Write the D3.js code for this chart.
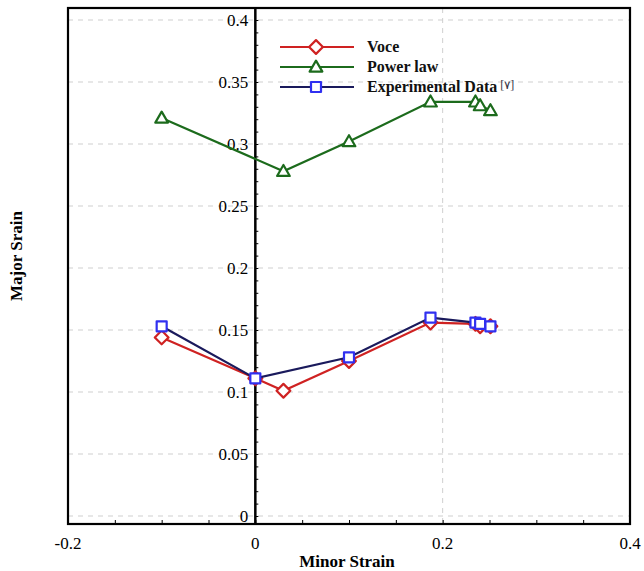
<!DOCTYPE html>
<html><head><meta charset="utf-8">
<script src="https://cdn.jsdelivr.net/npm/d3@7"></script>
<style>body{margin:0;background:#fff;} svg{display:block;}</style>
</head><body>
<svg id="c" width="644" height="571"></svg>
<script>
const minorStrain = [-0.1, 0, 0.03, 0.1, 0.187, 0.235, 0.24, 0.251];
const voce = [0.144, 0.111, 0.101, 0.125, 0.156, 0.155, 0.153, 0.153];
const powerX = [-0.1, 0.03, 0.1, 0.187, 0.235, 0.24, 0.251];
const powerLaw = [0.321, 0.278, 0.302, 0.334, 0.334, 0.331, 0.327];
const expX = [-0.1, 0, 0.1, 0.187, 0.235, 0.24, 0.251];
const expData = [0.153, 0.111, 0.128, 0.160, 0.156, 0.155, 0.153];
const xTicks = [-0.2, 0, 0.2, 0.4];
const yTicks = [0, 0.05, 0.1, 0.15, 0.2, 0.25, 0.3, 0.35, 0.4];
const legendLabels = ["Voce", "Power law", "Experimental Data"];

const svg = d3.select("#c");
const L = 68, R = 630, T = 8, B = 524;
const x = d3.scaleLinear().domain([-0.2, 0.4]).range([L, R]);
const y = d3.scaleLinear().domain([0, 0.4]).range([516, 20]);
const serif = "'Liberation Serif', 'Times New Roman', serif";
const fmt = d => String(+d.toFixed(2));

// grid
const g = svg.append("g");
g.selectAll("line.hg").data(yTicks).enter().append("line")
  .attr("x1", L).attr("x2", R).attr("y1", d => y(d)).attr("y2", d => y(d))
  .attr("stroke", "#cfcfcf").attr("stroke-width", 1).attr("stroke-dasharray", "5,5");
g.selectAll("line.vg").data([0.2]).enter().append("line")
  .attr("y1", T).attr("y2", B).attr("x1", d => x(d)).attr("x2", d => x(d))
  .attr("stroke", "#cfcfcf").attr("stroke-width", 1).attr("stroke-dasharray", "5,5");

// frame
svg.append("rect").attr("x", L).attr("y", T).attr("width", R - L).attr("height", B - T)
  .attr("fill", "none").attr("stroke", "#000").attr("stroke-width", 2.2);

// y axis at x=0
const yAxis = d3.axisRight(y).tickValues(d3.range(0, 0.41, 0.01)).tickSize(3).tickFormat("");
const ya = svg.append("g").attr("transform", `translate(${x(0)},0)`).call(yAxis);
ya.select(".domain").remove();
ya.selectAll("line").attr("stroke", "#000").attr("stroke-width", 1);
svg.append("line").attr("x1", x(0)).attr("x2", x(0)).attr("y1", T).attr("y2", B)
  .attr("stroke", "#000").attr("stroke-width", 2.5);
svg.selectAll("text.yl").data(yTicks).enter().append("text")
  .attr("x", x(0) - 7).attr("y", d => y(d) + 6).attr("text-anchor", "end")
  .attr("font-family", serif).attr("font-size", 17).attr("fill", "#000")
  .text(fmt);

// x axis minor ticks
const xAxis = d3.axisTop(x).tickValues(d3.range(-0.15, 0.4, 0.05)).tickSize(4).tickFormat("");
const xa = svg.append("g").attr("transform", `translate(0,${B})`).call(xAxis);
xa.select(".domain").remove();
xa.selectAll("line").attr("stroke", "#000").attr("stroke-width", 1);
svg.selectAll("text.xl").data(xTicks).enter().append("text")
  .attr("x", d => x(d)).attr("y", 549).attr("text-anchor", "middle")
  .attr("font-family", serif).attr("font-size", 17).attr("fill", "#000")
  .text(fmt);

// titles
svg.append("text").attr("x", 347).attr("y", 567).attr("text-anchor", "middle")
  .attr("font-family", serif).attr("font-weight", "bold").attr("font-size", 17).text("Minor Strain");
svg.append("text").attr("transform", "translate(22,256) rotate(-90)").attr("text-anchor", "middle")
  .attr("font-family", serif).attr("font-weight", "bold").attr("font-size", 17).text("Major Srain");

// series
const green = "#1c6b1c", red = "#cf2222", navy = "#1a1a5c", blue = "#3030f0";
const line = d3.line().x(d => x(d[0])).y(d => y(d[1]));
const tri = d3.symbol().type(d3.symbolTriangle).size(70);
const dia = d3.symbol().type(d3.symbolSquare).size(95);
const sq = d3.symbol().type(d3.symbolSquare).size(100);
const markTf = (sym, px, py) => sym === dia ? `translate(${px},${py}) rotate(45)` :
  sym === tri ? `translate(${px},${py + 1})` : `translate(${px},${py})`;

function drawSeries(xs, ys, lc, mc, sym) {
  const pts = xs.map((v, i) => [v, ys[i]]);
  svg.append("path").datum(pts).attr("d", line).attr("fill", "none")
    .attr("stroke", lc).attr("stroke-width", 2.2);
  svg.selectAll(null).data(pts).enter().append("path")
    .attr("d", sym).attr("transform", d => markTf(sym, x(d[0]), y(d[1])))
    .attr("fill", "#fff").attr("stroke", mc).attr("stroke-width", 2.2)
    .attr("stroke-linejoin", "round");
}
drawSeries(powerX, powerLaw, green, green, tri);
drawSeries(minorStrain, voce, red, red, dia);
drawSeries(expX, expData, navy, blue, sq);

// legend
const leg = [[red, red, dia], [green, green, tri], [navy, blue, sq]];
leg.forEach((d, i) => {
  const yy = 47 + i * 20;
  svg.append("line").attr("x1", 280).attr("x2", 354).attr("y1", yy).attr("y2", yy)
    .attr("stroke", d[0]).attr("stroke-width", 2.2);
  svg.append("path").attr("d", d[2]).attr("transform", markTf(d[2], 316, yy))
    .attr("fill", "#fff").attr("stroke", d[1]).attr("stroke-width", 2.2)
    .attr("stroke-linejoin", "round");
  const t = svg.append("text").attr("x", 367).attr("y", yy + 5)
    .attr("font-family", serif).attr("font-weight", "bold").attr("font-size", 16).attr("fill", "#111")
    .text(legendLabels[i]);
  if (i === 2) t.append("tspan").attr("font-weight", "normal").attr("font-size", 12)
    .attr("dy", -3).attr("dx", 3).attr("fill", "#334").text("[۷]");
});
</script>
</body></html>
